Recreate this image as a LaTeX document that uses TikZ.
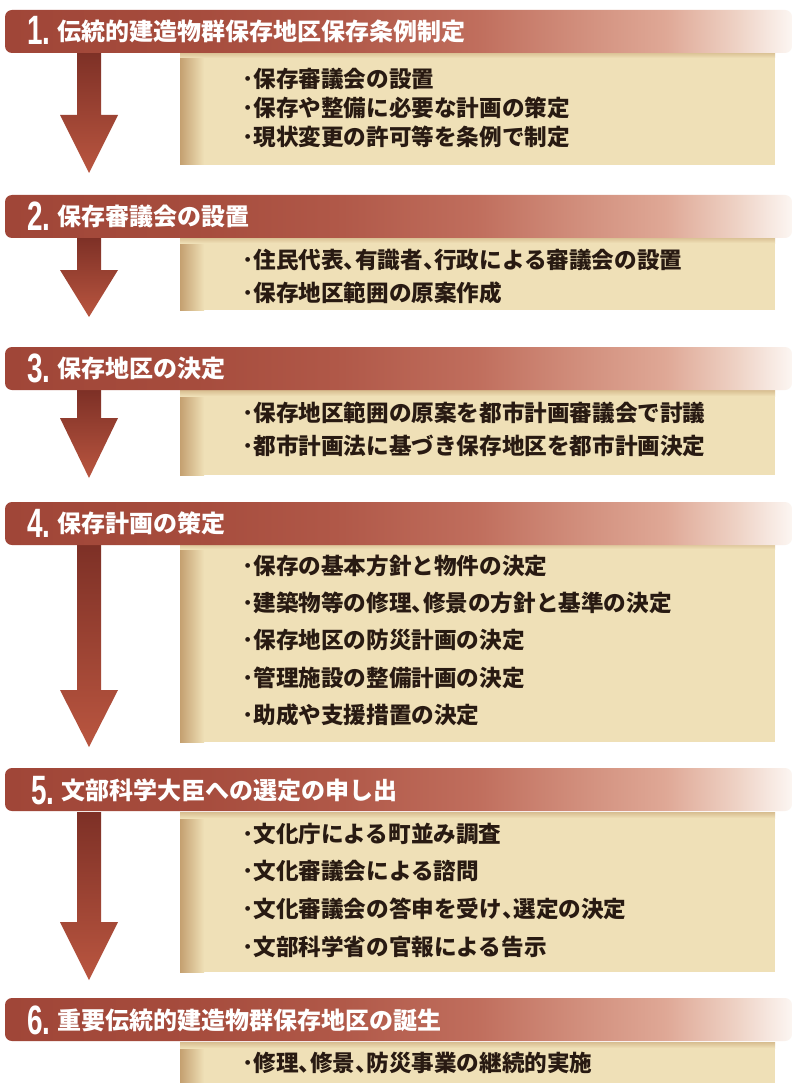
\documentclass[tikz,border=0pt]{standalone}
\usepackage{fontspec}
\usepackage{graphicx}
\newfontfamily\jp{Noto Sans CJK JP}
\newfontfamily\numfont{Liberation Sans}
\definecolor{barA}{RGB}{160,70,56}
\definecolor{barB}{RGB}{166,76,61}
\definecolor{barC}{RGB}{176,88,72}
\definecolor{barD}{RGB}{192,110,93}
\definecolor{barE}{RGB}{208,140,122}
\definecolor{barF}{RGB}{223,168,150}
\definecolor{barG}{RGB}{238,210,197}
\definecolor{barH}{RGB}{252,246,242}
\definecolor{boxC}{RGB}{239,224,183}
\definecolor{boxS}{RGB}{196,160,112}
\definecolor{arrTop}{RGB}{125,48,38}
\definecolor{arrBot}{RGB}{186,86,64}
\definecolor{txt}{RGB}{40,26,18}
\pgfdeclarehorizontalshading{barshade}{100bp}{color(0bp)=(barA); color(25bp)=(barA); color(37bp)=(barB); color(46bp)=(barC); color(55bp)=(barD); color(61bp)=(barE); color(67bp)=(barF); color(71.5bp)=(barG); color(75bp)=(barH); color(100bp)=(barH)}
\tikzset{
  hnum/.style={inner sep=0pt, anchor=base west, text=white, font=\numfont\bfseries\fontsize{41}{41}\selectfont},
  htxt/.style={inner sep=0pt, anchor=west, text=white, font=\jp\bfseries\fontsize{24}{24}\selectfont},
  item/.style={inner sep=0pt, anchor=west, text=txt, font=\jp\bfseries\fontsize{22.6}{22.6}\selectfont},
}
\newcommand\numtxt[1]{\scalebox{0.68}[1]{#1}}
\newcommand\tk{\makebox[0.5em][l]{、}}
\begin{document}
\begin{tikzpicture}[x=1pt,y=-1pt]
\useasboundingbox (0,0) rectangle (795,1083);
\fill[white] (0,0) rectangle (795,1083);
% ---------- boxes ----------
\foreach \t/\b in {52/165, 237/310, 390/475, 543/742, 812/972, 1042/1090}{
  \fill[boxC] (180,\t) rectangle (775,\b);
  \shade[left color=boxS, right color=boxC] (180,\t) rectangle (204,\b);
  \shade[top color=boxS!55!boxC, bottom color=boxC] (180,\t) rectangle (775,\t+6);
}
% ---------- arrows ----------
\foreach \t/\h/\tip in {52/115/173, 237/270/317, 390/418/478, 543/690/747, 812/922/980}{
  \shade[top color=arrTop, bottom color=arrBot]
    (77,\t) -- (101,\t) -- (101,\h) -- (118,\h) -- (89,\tip) -- (60,\h) -- (77,\h) -- cycle;
}
% ---------- bars ----------
\foreach \t in {10,195,347,502,768,998}{
  \shade[shading=barshade, rounded corners=7pt] (5,\t) rectangle (792,\t+43);
}
% ---------- headers ----------
\node[hnum] (n1) at (27,45) {\numtxt{1.}};
\node[htxt] (h1) at (57,31) {伝統的建造物群保存地区保存条例制定};
\node[hnum] (n2) at (27,230) {\numtxt{2.}};
\node[htxt] (h2) at (57,216) {保存審議会の設置};
\node[hnum] (n3) at (27,382) {\numtxt{3.}};
\node[htxt] (h3) at (57,368) {保存地区の決定};
\node[hnum] (n4) at (27,537) {\numtxt{4.}};
\node[htxt] (h4) at (57,523) {保存計画の策定};
\node[hnum] (n5) at (31,804) {\numtxt{5.}};
\node[htxt] (h5) at (61,790) {文部科学大臣への選定の申し出};
\node[hnum] (n6) at (27,1034) {\numtxt{6.}};
\node[htxt] (h6) at (57,1020) {重要伝統的建造物群保存地区の誕生};
% ---------- items ----------
\node[item] (a1) at (242,79) {･保存審議会の設置};
\node[item] (a2) at (242,108) {･保存や整備に必要な計画の策定};
\node[item] (a3) at (242,137) {･現状変更の許可等を条例で制定};
\node[item] (b1) at (242,260) {･住民代表\tk 有識者\tk 行政による審議会の設置};
\node[item] (b2) at (242,293) {･保存地区範囲の原案作成};
\node[item] (c1) at (242,413) {･保存地区範囲の原案を都市計画審議会で討議};
\node[item] (c2) at (242,446) {･都市計画法に基づき保存地区を都市計画決定};
\node[item] (d1) at (242,566) {･保存の基本方針と物件の決定};
\node[item] (d2) at (242,603) {･建築物等の修理\tk 修景の方針と基準の決定};
\node[item] (d3) at (242,640) {･保存地区の防災計画の決定};
\node[item] (d4) at (242,678) {･管理施設の整備計画の決定};
\node[item] (d5) at (242,715) {･助成や支援措置の決定};
\node[item] (e1) at (242,834) {･文化庁による町並み調査};
\node[item] (e2) at (242,871) {･文化審議会による諮問};
\node[item] (e3) at (242,909) {･文化審議会の答申を受け\tk 選定の決定};
\node[item] (e4) at (242,947) {･文部科学省の官報による告示};
\node[item] (f1) at (242,1063) {･修理\tk 修景\tk 防災事業の継続的実施};
\end{tikzpicture}
\end{document}
